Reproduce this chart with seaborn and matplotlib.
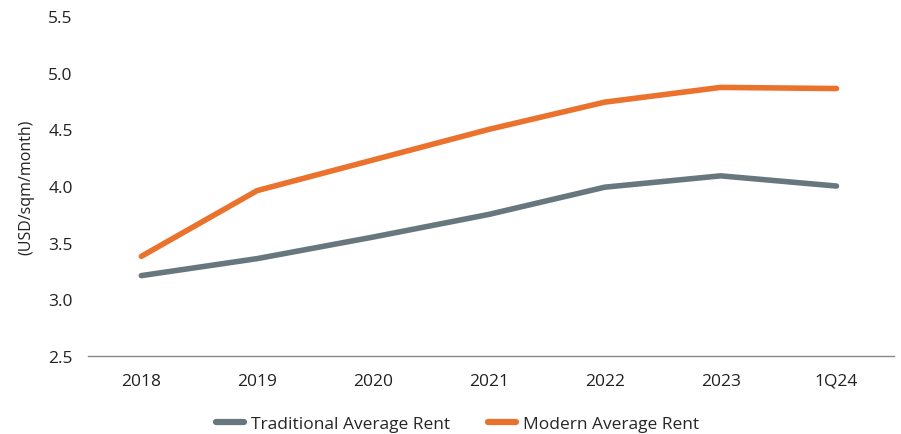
import matplotlib
matplotlib.use("Agg")
import matplotlib.pyplot as plt
import seaborn as sns
import pandas as pd

periods = ["2018", "2019", "2020", "2021", "2022", "2023", "1Q24"]
traditional = [3.21, 3.36, 3.55, 3.75, 3.99, 4.09, 4.00]
modern = [3.38, 3.96, 4.23, 4.50, 4.74, 4.87, 4.86]
series_names = ["Traditional Average Rent", "Modern Average Rent"]
colors = ["#67777D", "#EA722C"]
y_ticks = [2.5, 3.0, 3.5, 4.0, 4.5, 5.0, 5.5]

df = pd.DataFrame({
    "period": periods * 2,
    "rent": traditional + modern,
    "series": [series_names[0]] * len(periods) + [series_names[1]] * len(periods),
})

sns.set_theme(style="white")
plt.rcParams["font.family"] = ["Open Sans", "DejaVu Sans"]

fig = plt.figure(figsize=(9.01, 4.35), dpi=100)
ax = fig.add_axes([0.0977, 0.179, 0.895, 0.782])

sns.lineplot(data=df, x="period", y="rent", hue="series", palette=colors,
             linewidth=4, sort=False, ax=ax, solid_capstyle="round")

ax.set_xlim(-0.46, 6.5)
ax.set_ylim(2.5, 5.5)
ax.set_yticks(y_ticks)
ax.set_yticklabels([f"{v:.1f}" for v in y_ticks])
ax.tick_params(axis="both", length=0, labelsize=12.5, colors="#222222")
ax.tick_params(axis="x", pad=12)
ax.tick_params(axis="y", pad=11)
for side in ["top", "right", "left"]:
    ax.spines[side].set_visible(False)
ax.spines["bottom"].set_color("#888888")
ax.spines["bottom"].set_linewidth(1)
ax.set_xlabel("")
ax.set_ylabel("(USD/sqm/month)", fontsize=11.5, color="#222222", labelpad=10)

leg = ax.legend(loc="upper center", bbox_to_anchor=(0.458, -0.13), ncol=2,
                frameon=False, fontsize=12.5, handlelength=1.6, columnspacing=2.2,
                handletextpad=0.4)
for line in leg.get_lines():
    line.set_linewidth(4.5)
    line.set_solid_capstyle("round")

fig.savefig("out.png", dpi=100)
